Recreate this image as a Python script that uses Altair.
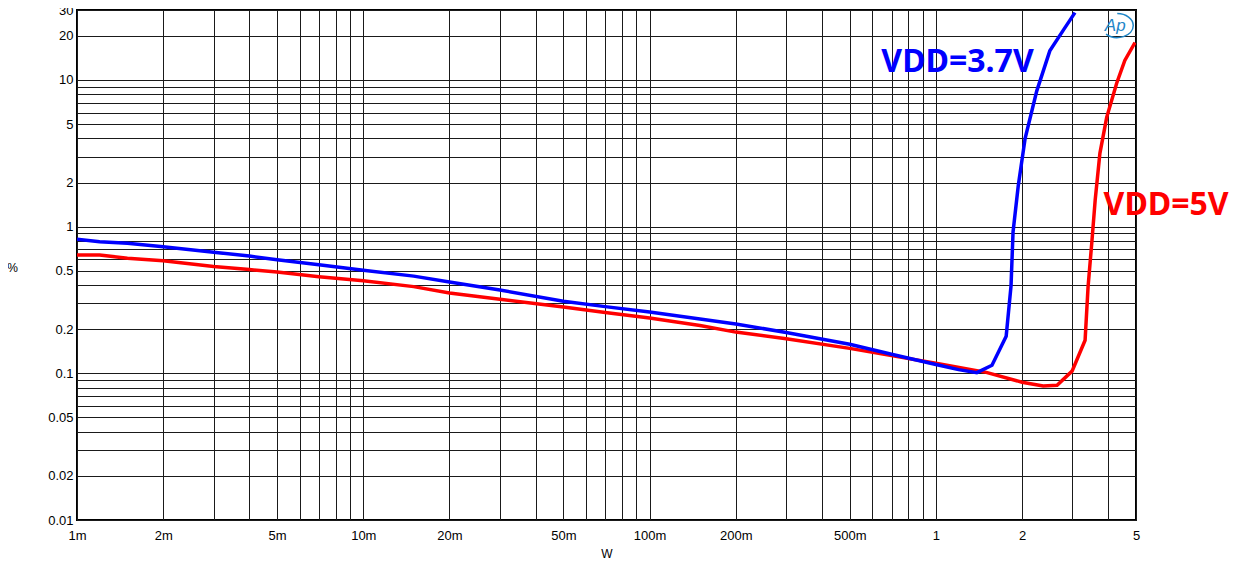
import altair as alt
import pandas as pd

# ---------------- data ----------------
blue_w = [0.001, 0.0012, 0.0015, 0.002, 0.003, 0.004, 0.005, 0.007, 0.01, 0.015,
          0.02, 0.03, 0.05, 0.07, 0.1, 0.15, 0.2, 0.3, 0.5, 0.7, 1.0, 1.2, 1.39,
          1.57, 1.76, 1.83, 1.86, 1.94, 2.05, 2.25, 2.5, 2.78, 3.06]
blue_pct = [0.82, 0.79, 0.77, 0.73, 0.67, 0.63, 0.595, 0.55, 0.505, 0.46,
            0.42, 0.37, 0.31, 0.285, 0.262, 0.235, 0.217, 0.19, 0.158, 0.135, 0.115, 0.106, 0.101,
            0.1135, 0.179, 0.394, 0.92, 1.91, 4.0, 8.4, 15.8, 21.7, 28.8]

red_w = [0.001, 0.0012, 0.0015, 0.002, 0.003, 0.004, 0.005, 0.007, 0.01, 0.015,
         0.02, 0.03, 0.05, 0.07, 0.1, 0.15, 0.2, 0.3, 0.5, 0.7, 1.0, 1.5, 2.0,
         2.37, 2.65, 2.99, 3.32, 3.40, 3.51, 3.60, 3.74, 3.95, 4.28, 4.57, 4.96]
red_pct = [0.64, 0.64, 0.61, 0.585, 0.535, 0.51, 0.49, 0.455, 0.427, 0.39,
           0.353, 0.32, 0.283, 0.26, 0.238, 0.212, 0.191, 0.172, 0.148, 0.132, 0.117, 0.1015, 0.087,
           0.082, 0.083, 0.1035, 0.168, 0.387, 0.81, 1.51, 3.16, 5.56, 9.5, 13.6, 18.0]

x_label_vals = [0.001, 0.002, 0.005, 0.01, 0.02, 0.05, 0.1, 0.2, 0.5, 1.0, 2.0, 5.0]
x_label_text = ["1m", "2m", "5m", "10m", "20m", "50m", "100m", "200m", "500m", "1", "2", "5"]
y_label_vals = [0.01, 0.02, 0.05, 0.1, 0.2, 0.5, 1.0, 2.0, 5.0, 10.0, 20.0, 30.0]
y_label_text = ["0.01", "0.02", "0.05", "0.1", "0.2", "0.5", "1", "2", "5", "10", "20", "30"]

x_grid = [float(f"{m}e{d}") for d in range(-3, 1) for m in range(1, 10) if float(f"{m}e{d}") <= 5]
y_grid = [float(f"{m}e{d}") for d in range(-2, 2) for m in range(1, 10) if float(f"{m}e{d}") <= 30]

labels_text = ["VDD=3.7V", "VDD=5V"]
labels_w = [1.19, 6.37]
labels_pct = [13.2, 1.40]


def lab_expr(vals, labs):
    v = "[" + ",".join(repr(x) for x in vals) + "]"
    l = "[" + ",".join(f"'{s}'" for s in labs) + "]"
    return f"indexof({v}, datum.value) < 0 ? '' : {l}[indexof({v}, datum.value)]"


FONT = "Liberation Sans"
xs = alt.Scale(type="log", domain=[0.001, 5], nice=False)
ys = alt.Scale(type="log", domain=[0.01, 30], nice=False)

xaxis = alt.Axis(values=x_grid, labelExpr=lab_expr(x_label_vals, x_label_text),
                 grid=True, gridColor="#1a1a1a", gridWidth=1, gridOpacity=1,
                 ticks=False, domain=False, labelPadding=9, labelFontSize=13,
                 labelFont=FONT, labelColor="black", labelOverlap=False, labelFlush=False,
                 title="W", titleFont=FONT, titleFontSize=12, titleFontWeight="normal",
                 titleColor="black", titleY=33, titleBaseline="middle")
yaxis = alt.Axis(values=y_grid, labelExpr=lab_expr(y_label_vals, y_label_text),
                 grid=True, gridColor="#1a1a1a", gridWidth=1, gridOpacity=1,
                 ticks=False, domain=False, labelPadding=4, labelFontSize=13,
                 labelFont=FONT, labelColor="black", labelOverlap=False,
                 title="%", titleFont=FONT, titleFontSize=12, titleFontWeight="normal",
                 titleColor="black", titleAngle=0, titleX=-65, titleY=257,
                 titleAlign="center", titleBaseline="middle")

X = alt.X("w:Q", scale=xs, axis=xaxis)
Y = alt.Y("pct:Q", scale=ys, axis=yaxis)

red_df = pd.DataFrame({"w": red_w, "pct": red_pct})
blue_df = pd.DataFrame({"w": blue_w, "pct": blue_pct})

red_line = alt.Chart(red_df).mark_line(color="#ff0000", strokeWidth=3.5, clip=True).encode(x=X, y=Y)
blue_line = alt.Chart(blue_df).mark_line(color="#0000ff", strokeWidth=3.5, clip=True).encode(x=X, y=Y)

blue_lab = alt.Chart(pd.DataFrame({"w": [labels_w[0]], "pct": [labels_pct[0]], "t": [labels_text[0]]})).mark_text(
    font="Noto Sans", fontWeight="bold", fontSize=32, color="#0000ff", align="center", baseline="middle"
).encode(x=X, y=Y, text="t:N")
red_lab = alt.Chart(pd.DataFrame({"w": [labels_w[1]], "pct": [labels_pct[1]], "t": [labels_text[1]]})).mark_text(
    font="Noto Sans", fontWeight="bold", fontSize=32, color="#ff0000", align="center", baseline="middle"
).encode(x=X, y=Y, text="t:N")

logo_df = pd.DataFrame({"w": [4.3], "pct": [23.5], "t": ["Ap"]})
logo_txt = alt.Chart(logo_df).mark_text(
    font=FONT, fontStyle="italic", fontSize=17, color="#1f86c8", align="center", baseline="middle", dx=-2
).encode(x=X, y=Y, text="t:N")
logo_arc = alt.Chart(logo_df).mark_point(
    shape="M -0.7 0.536 A 1 0.75 0 0 0 1 0 A 1 0.75 0 0 0 0 -0.75",
    size=1024, filled=False, stroke="#1f86c8", strokeWidth=1.5, opacity=1
).encode(x=X, y=Y)

chart = alt.layer(red_line, blue_line, blue_lab, red_lab, logo_txt, logo_arc).properties(
    width=1059, height=510,
    padding={"left": 69, "top": 2, "right": 100, "bottom": 40},
    autosize=alt.AutoSizeParams(type="none"),
    background="white",
).configure_view(stroke="black", strokeWidth=2)

chart.save("out.html", embed_options={"renderer": "svg", "actions": False})
